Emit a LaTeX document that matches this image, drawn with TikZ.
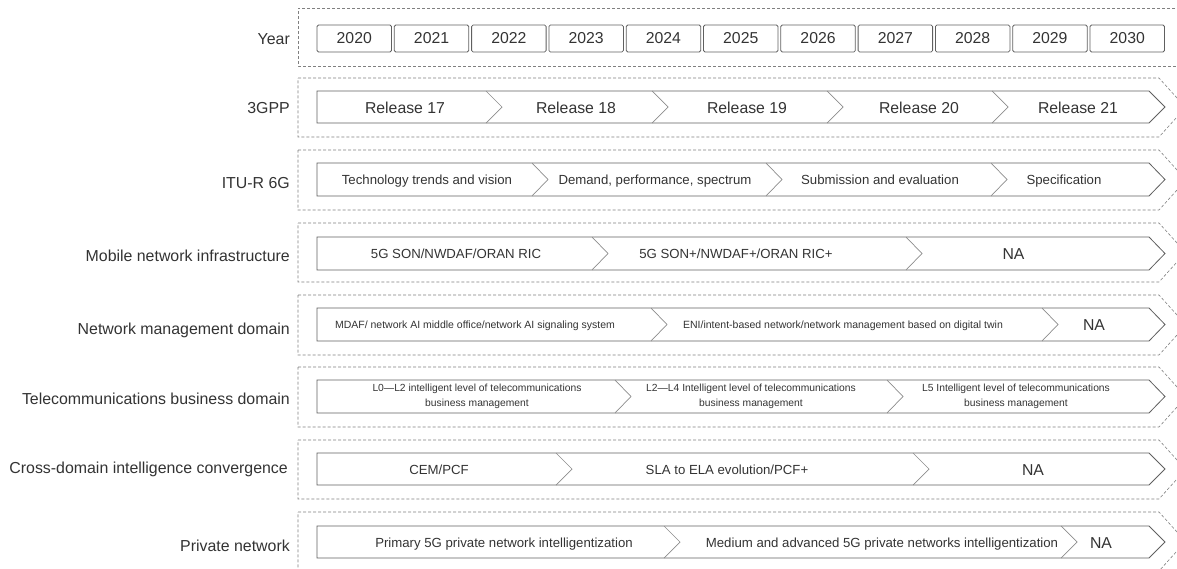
\documentclass[tikz,border=0pt]{standalone}
\usepackage{fontspec}
\setmainfont{Liberation Sans}
\definecolor{framegray}{HTML}{808080}
\definecolor{bandgray}{HTML}{606060}
\definecolor{seamgray}{HTML}{8C8C8C}
\definecolor{txt}{HTML}{333333}
\begin{document}
\begin{tikzpicture}[x=1pt,y=-1pt,
  frame/.style={draw=framegray,line width=0.6pt,dash pattern=on 3pt off 2pt},
  band/.style={draw=bandgray,line width=0.8pt,line join=miter},
  seam/.style={draw=seamgray,line width=0.7pt},
  yearbox/.style={draw=bandgray,line width=0.8pt,rounded corners=1.5pt,minimum width=74.5pt,minimum height=27pt,inner sep=0pt,text=txt,font=\fontsize{15.8}{18}\selectfont},
  rowlabel/.style={anchor=base east,inner sep=0pt,text=txt,font=\fontsize{15.9}{18}\selectfont},
  bigtext/.style={inner sep=0pt,text=txt,text height=11.3pt,text depth=0pt,font=\fontsize{15.8}{18}\selectfont},
  midtext/.style={inner sep=0pt,text=txt,text height=9.4pt,text depth=0pt,font=\fontsize{13.2}{16}\selectfont},
  smalltext/.style={inner sep=0pt,text=txt,text height=7.6pt,text depth=0pt,font=\fontsize{10.5}{13}\selectfont},
  twoline/.style={inner sep=0pt,text=txt,align=center,font=\fontsize{10.3}{15}\selectfont},
]
\useasboundingbox (0,0) rectangle (1177,568);
\clip (0,0) rectangle (1177,568);

% dashed frame of the year row (open to the right)
\draw[frame] (1190,8) -- (298,8) -- (298,66) -- (1190,66);
% dashed chevron frames of the other rows
\foreach \t/\b in {78/137,150/210,223/282,295/355,367/427,440/499,512/571}{
  \draw[frame] (298,\t) -- (1159,\t) -- ({1159+0.45*(\b-\t)},{(\t+\b)/2}) -- (1159,\b) -- (298,\b) -- cycle;
}
% solid chevron bands with their inner seams
\foreach \t/\b/\tips in {91/123/{502,668,843,1008}, 163/196/{548,782,1007}, 237/270/{608,922}, 308/341/{667,1058}, 380/413/{631,903}, 453/485/{572,929}, 526/558/{680,1077}}{
  \draw[band] (317,\t) -- (1149,\t) -- (1165,{(\t+\b)/2}) -- (1149,\b) -- (317,\b) -- cycle;
  \foreach \p in \tips { \draw[seam] ({\p-16},\t) -- (\p,{(\t+\b)/2}) -- ({\p-16},\b); }
}

% row labels
\node[rowlabel] (lblYear) at (290,44) {Year};
\node[rowlabel] (lblGPP) at (290,113) {3GPP};
\node[rowlabel] (lblITU) at (290,188.5) {ITU-R 6G};
\node[rowlabel] (lblMobile) at (290,261) {Mobile network infrastructure};
\node[rowlabel] (lblNM) at (290,334) {Network management domain};
\node[rowlabel] (lblTel) at (290,404.5) {Telecommunications business domain};
\node[rowlabel] (lblCross) at (288,473) {Cross-domain intelligence convergence};
\node[rowlabel] (lblPriv) at (290,551) {Private network};

% year boxes
\foreach \yr [count=\i from 0] in {2020,2021,2022,2023,2024,2025,2026,2027,2028,2029,2030}
  \node[yearbox] (y\yr) at ({354.25+77.3*\i},38.5) {\yr};

% 3GPP
\node[bigtext] (r17) at (405,107.5) {Release 17};
\node[bigtext] (r18) at (576,107.5) {Release 18};
\node[bigtext] (r19) at (747,107.5) {Release 19};
\node[bigtext] (r20) at (919,107.5) {Release 20};
\node[bigtext] (r21) at (1078,107.5) {Release 21};

% ITU-R 6G
\node[midtext] (itu1) at (427,180) {Technology trends and vision};
\node[midtext] (itu2) at (655,180) {Demand, performance, spectrum};
\node[midtext] (itu3) at (880,180) {Submission and evaluation};
\node[midtext] (itu4) at (1064,180) {Specification};

% mobile network infrastructure
\node[midtext] (mob1) at (456,254) {5G SON/NWDAF/ORAN RIC};
\node[midtext] (mob2) at (736,254) {5G SON+/NWDAF+/ORAN RIC+};
\node[bigtext] (mob3) at (1013.5,254) {NA};

% network management domain
\node[smalltext] (nm1) at (475,325) {MDAF/ network AI middle office/network AI signaling system};
\node[smalltext] (nm2) at (843,325) {ENI/intent-based network/network management based on digital twin};
\node[bigtext] (nm3) at (1094,325) {NA};

% telecommunications business domain
\node[twoline] (tel1) at (477,396.5) {L0—L2 intelligent level of telecommunications\\business management};
\node[twoline] (tel2) at (751,396.5) {L2—L4 Intelligent level of telecommunications\\business management};
\node[twoline] (tel3) at (1016,396.5) {L5 Intelligent level of telecommunications\\business management};

% cross-domain intelligence convergence
\node[midtext] (cr1) at (439,469.5) {CEM/PCF};
\node[midtext] (cr2) at (727,469.5) {SLA to ELA evolution/PCF+};
\node[bigtext] (cr3) at (1033,469.5) {NA};

% private network
\node[midtext] (pv1) at (504,542.5) {Primary 5G private network intelligentization};
\node[midtext] (pv2) at (882,542.5) {Medium and advanced 5G private networks intelligentization};
\node[bigtext] (pv3) at (1101,542.5) {NA};
\end{tikzpicture}
\end{document}
